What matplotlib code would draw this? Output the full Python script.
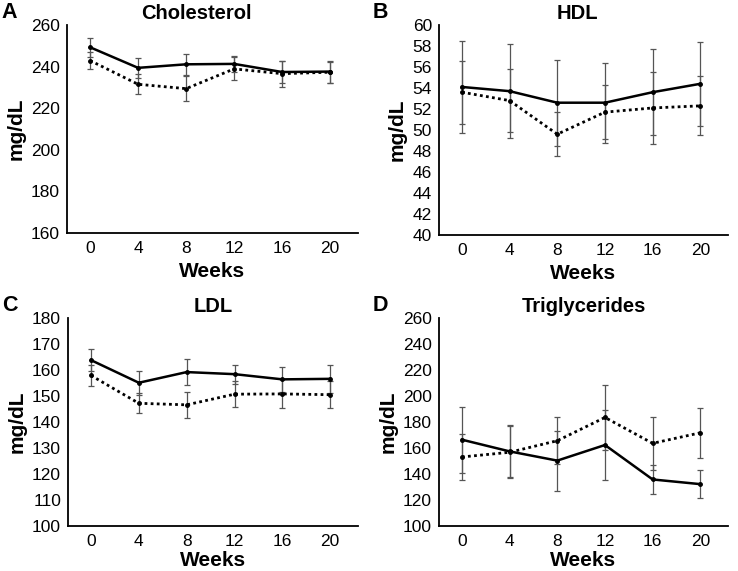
import matplotlib
matplotlib.use("Agg")
import matplotlib.pyplot as plt

plt.rcParams['font.family'] = ['Liberation Sans', 'DejaVu Sans']

weeks = ["0", "4", "8", "12", "16", "20"]

chol_solid = [249.3, 239.4, 241.1, 241.3, 237.4, 237.6]
chol_solid_err = [4.6, 4.9, 5.0, 4.0, 5.2, 5.3]
chol_dot = [242.9, 231.5, 229.4, 238.9, 236.6, 237.3]
chol_dot_err = [4.2, 4.8, 5.9, 5.5, 6.2, 5.1]

hdl_solid = [54.1, 53.7, 52.6, 52.6, 53.6, 54.4]
hdl_solid_err = [4.4, 4.5, 4.1, 3.8, 4.1, 4.0]
hdl_dot = [53.6, 52.8, 49.6, 51.7, 52.1, 52.3]
hdl_dot_err = [3.0, 3.0, 2.1, 2.6, 3.4, 2.8]

ldl_solid = [163.8, 155.1, 159.2, 158.4, 156.4, 156.6]
ldl_solid_err = [4.3, 4.7, 4.9, 3.7, 4.7, 5.5]
ldl_dot = [157.9, 147.2, 146.6, 150.7, 150.8, 150.5]
ldl_dot_err = [4.0, 3.8, 5.1, 5.1, 5.6, 5.2]

tg_solid = [166.4, 157.4, 150.3, 162.3, 135.8, 132.2]
tg_solid_err = [25.5, 20.0, 23.0, 27.0, 11.0, 10.5]
tg_dot = [153.1, 156.7, 165.6, 183.5, 163.6, 171.7]
tg_dot_err = [18.0, 20.0, 18.0, 25.0, 20.6, 19.4]

panels = [
    ("A", "Cholesterol", chol_solid, chol_solid_err, chol_dot, chol_dot_err, (160, 260), list(range(160, 261, 20)), 0.445),
    ("B", "HDL", hdl_solid, hdl_solid_err, hdl_dot, hdl_dot_err, (40, 60), list(range(40, 61, 2)), 0.48),
    ("C", "LDL", ldl_solid, ldl_solid_err, ldl_dot, ldl_dot_err, (100, 180), list(range(100, 181, 10)), 0.5),
    ("D", "Triglycerides", tg_solid, tg_solid_err, tg_dot, tg_dot_err, (100, 260), list(range(100, 261, 20)), 0.5),
]

W, H = 738, 571
fig = plt.figure(figsize=(W / 100, H / 100), dpi=100)

boxes = [
    (67, 25, 358, 233, 4),
    (439, 25, 728, 235, 4),
    (68, 318, 358, 526, 1),
    (439, 318, 728, 526, 1),
]

x = list(range(len(weeks)))
for (letter, title, s, se, d, de, ylim, yt, tx), (l, t, r, b, lp) in zip(panels, boxes):
    ax = fig.add_axes([l / W, 1 - b / H, (r - l) / W, (b - t) / H])
    ax.errorbar(x, s, yerr=se, color='black', lw=1.8, marker='o', ms=2.5,
                ecolor='#555555', elinewidth=0.9, capsize=2, capthick=0.9, zorder=3)
    ax.errorbar(x, d, yerr=de, color='black', lw=2.0, ls=(0, (1, 1.2)), marker='o', ms=2.5,
                ecolor='#555555', elinewidth=0.9, capsize=2, capthick=0.9, zorder=3)
    ax.set_xlim(-0.48, 5.58)
    ax.set_ylim(*ylim)
    ax.set_yticks(yt)
    ax.set_xticks(x)
    ax.set_xticklabels(weeks)
    ax.tick_params(axis='y', length=0, labelsize=12.5, pad=5)
    ax.tick_params(axis='x', length=0, labelsize=12.5, pad=6)
    for sp in ['top', 'right']:
        ax.spines[sp].set_visible(False)
    for sp in ['left', 'bottom']:
        ax.spines[sp].set_linewidth(1.3)
    ax.set_title(title, fontsize=14.5, fontweight='bold', pad=4, x=tx)
    ax.set_xlabel("Weeks", fontsize=15, fontweight='bold', labelpad=lp)
    ax.set_ylabel("mg/dL", fontsize=15, fontweight='bold', labelpad=4)
    fig.text((l - 67 + 1) / W, 1 - (t - 23) / H, letter, fontsize=15.5, fontweight='bold', va='top', ha='left')

fig.savefig("out.png", dpi=100)
